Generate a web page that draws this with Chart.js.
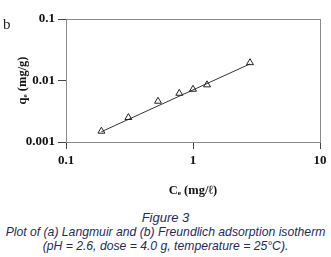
<!DOCTYPE html>
<html>
<head>
<meta charset="utf-8">
<script src="https://cdn.jsdelivr.net/npm/chart.js@4.4.1/dist/chart.umd.min.js"></script>
<style>
    html, body { margin: 0; padding: 0; background: #fff; }
    #wrap { position: relative; width: 331px; height: 257px; }
    #chart { position: absolute; left: 0; top: 0; }
    #panel { position: absolute; left: 3px; top: 16px; font: 15px "Liberation Serif", serif; color: #222; }
    #caption {
        position: absolute; left: 0; top: 211px; width: 331px; text-align: center;
        font: italic 12.2px "Liberation Sans", Arial, sans-serif; line-height: 14px; color: #1e2b5e;
    }
</style>
</head>
<body>
<div id="wrap">
    <canvas id="chart" width="331" height="205"></canvas>
    <div id="panel">b</div>
    <div id="caption">
        <div style="font-size:13px">Figure 3</div>
        <div>Plot of (a) Langmuir and (b) Freundlich adsorption isotherm</div>
        <div>(pH = 2.6, dose = 4.0 g, temperature = 25°C).</div>
    </div>
</div>
<script>
"use strict";

// Measured points (Ce in mg/l, qe in mg/g)
const ceValues = [0.19, 0.31, 0.53, 0.78, 1.0, 1.29, 2.81];
const qeValues = [0.0015, 0.0025, 0.0046, 0.0062, 0.0072, 0.0085, 0.0195];

// Power-law trendline end points
const trendX = [0.19, 2.81];
const trendY = [0.00147, 0.0186];

// Axis ticks
const xTicks = [0.1, 1, 10];
const xTickLabels = ['0.1', '1', '10'];
const yTicks = [0.001, 0.01, 0.1];
const yTickLabels = ['0.001', '0.01', '0.1'];

const tickFont = { family: '"Liberation Serif", serif', size: 13, weight: 'bold' };
const titleFont = { family: '"Liberation Serif", serif', size: 12.5, weight: 'bold' };

// Gray box around the plot area
const boxPlugin = {
    id: 'box',
    afterDraw(chart) {
        const a = chart.chartArea;
        const ctx = chart.ctx;
        ctx.save();
        ctx.strokeStyle = '#8a8a8a';
        ctx.lineWidth = 1;
        ctx.strokeRect(a.left + 0.5, a.top + 0.5, a.right - a.left, a.bottom - a.top);
        ctx.restore();
    }
};

const config = {
    type: 'scatter',
    data: {
        datasets: [
            {
                label: 'qe',
                data: ceValues.map((x, i) => ({ x: x, y: qeValues[i] })),
                pointStyle: 'triangle',
                pointRadius: 4,
                borderColor: '#222',
                backgroundColor: 'rgba(0,0,0,0)',
                borderWidth: 1
            },
            {
                label: 'trend',
                data: trendX.map((x, i) => ({ x: x, y: trendY[i] })),
                showLine: true,
                pointRadius: 0,
                borderColor: '#333',
                borderWidth: 1
            }
        ]
    },
    options: {
        responsive: false,
        animation: false,
        layout: { padding: { top: 19, right: 11, left: 0, bottom: 0 } },
        plugins: {
            legend: { display: false },
            tooltip: { enabled: false }
        },
        scales: {
            x: {
                type: 'logarithmic',
                min: 0.1,
                max: 10,
                afterBuildTicks: (scale) => { scale.ticks = xTicks.map(v => ({ value: v })); },
                afterFit: (scale) => { scale.height = 63; },
                ticks: {
                    callback: (v) => xTickLabels[xTicks.indexOf(v)],
                    font: tickFont,
                    color: '#111',
                    padding: 4,
                    maxRotation: 0
                },
                grid: { drawOnChartArea: false, tickLength: 7, color: '#444' },
                border: { color: '#555' },
                title: {
                    display: true,
                    text: 'Cₑ (mg/ℓ)',
                    font: titleFont,
                    color: '#111',
                    padding: { top: 0, bottom: 7 }
                }
            },
            y: {
                type: 'logarithmic',
                min: 0.001,
                max: 0.1,
                afterBuildTicks: (scale) => { scale.ticks = yTicks.map(v => ({ value: v })); },
                afterFit: (scale) => { scale.width = 66; },
                ticks: {
                    callback: (v) => yTickLabels[yTicks.indexOf(v)],
                    font: tickFont,
                    color: '#111',
                    padding: 3
                },
                grid: { drawOnChartArea: false, tickLength: 8, color: '#444' },
                border: { color: '#555' },
                title: {
                    display: true,
                    text: 'qₑ (mg/g)',
                    font: titleFont,
                    color: '#111',
                    padding: { top: 15, bottom: 0 }
                }
            }
        }
    },
    plugins: [boxPlugin]
};

const chart = new Chart(document.getElementById('chart').getContext('2d'), config);
</script>
</body>
</html>
